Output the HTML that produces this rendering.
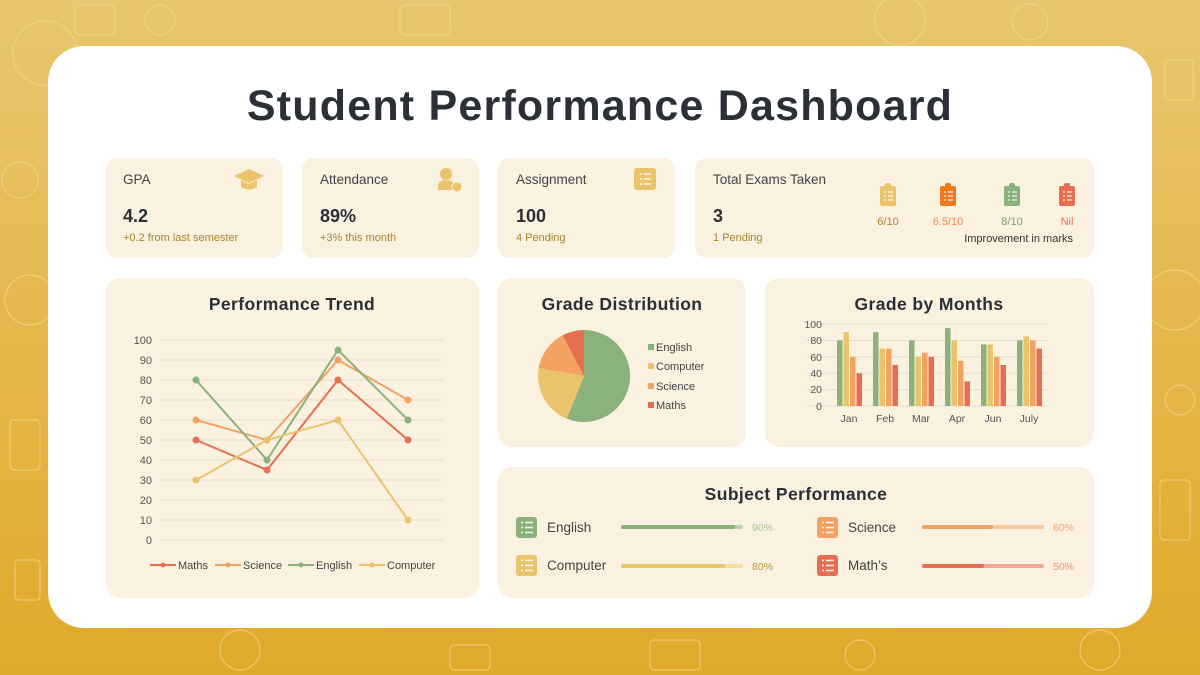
<!DOCTYPE html>
<html><head><meta charset="utf-8"><style>
html,body{margin:0;padding:0;width:1200px;height:675px;overflow:hidden}
svg{display:block}
text{font-family:"Liberation Sans",sans-serif}
</style></head><body>
<svg width="1200" height="675" viewBox="0 0 1200 675" xmlns="http://www.w3.org/2000/svg">
<defs>
<linearGradient id="bg" x1="0" y1="0" x2="0" y2="1">
<stop offset="0" stop-color="#e9c66f"/><stop offset="1" stop-color="#e1a928"/>
</linearGradient>
</defs>
<rect width="1200" height="675" fill="url(#bg)"/>
<g fill="none" stroke="#f3dc9c" stroke-width="1.2" opacity="0.6">
<circle cx="45" cy="53" r="32"/><rect x="75" y="5" width="40" height="30" rx="4"/><rect x="1110" y="150" width="40" height="55" rx="4"/>
<circle cx="1175" cy="300" r="30"/><rect x="10" y="420" width="30" height="50" rx="4"/><circle cx="30" cy="300" r="25"/>
<rect x="1160" y="480" width="30" height="60" rx="4"/><circle cx="240" cy="650" r="20"/><circle cx="900" cy="20" r="25"/>
<rect x="400" y="5" width="50" height="30" rx="4"/><rect x="650" y="640" width="50" height="30" rx="4"/><circle cx="1100" cy="650" r="20"/>
<circle cx="20" cy="180" r="18"/><rect x="1165" y="60" width="28" height="40" rx="4"/><circle cx="160" cy="20" r="15"/><circle cx="1030" cy="22" r="18"/>
<rect x="15" y="560" width="25" height="40" rx="4"/><circle cx="1180" cy="400" r="15"/><rect x="450" y="645" width="40" height="25" rx="4"/><circle cx="860" cy="655" r="15"/>
</g>
<rect x="48" y="46" width="1104" height="582" rx="36" fill="#fff"/>
<text x="600" y="120" text-anchor="middle" font-size="43" font-weight="bold" fill="#2b2f36" letter-spacing="1.2">Student Performance Dashboard</text>

<g fill="#fbf1e0">
<rect x="106" y="158" width="177" height="100" rx="12"/>
<rect x="302" y="158" width="177" height="100" rx="12"/>
<rect x="498" y="158" width="177" height="100" rx="12"/>
<rect x="695" y="158" width="399" height="100" rx="12"/>
<rect x="106" y="278" width="373" height="320" rx="14"/>
<rect x="498" y="278" width="248" height="169" rx="14"/>
<rect x="765" y="278" width="329" height="169" rx="14"/>
<rect x="498" y="467" width="596" height="131" rx="14"/>
</g>

<g font-size="13.5" fill="#444">
<text x="123" y="184">GPA</text><text x="320" y="184">Attendance</text><text x="516" y="184">Assignment</text><text x="713" y="184">Total Exams Taken</text>
</g>
<g font-size="18" font-weight="bold" fill="#2b2f36">
<text x="123" y="222">4.2</text><text x="320" y="222">89%</text><text x="516" y="222">100</text><text x="713" y="222">3</text>
</g>
<g font-size="11" fill="#a8852a">
<text x="123" y="241">+0.2 from last semester</text><text x="320" y="241">+3% this month</text><text x="516" y="241">4 Pending</text><text x="713" y="241">1 Pending</text>
</g>
<g fill="#e9c46a">
<polygon points="249,169 264,176 249,183 234,176"/><path d="M241,180 v7 q8,5 16,0 v-7 l-8,4z"/>
<circle cx="446" cy="174" r="6"/><path d="M438,190 v-4 q0,-6 8,-6 q8,0 8,6 v4z"/><circle cx="457" cy="187" r="5" stroke="#fbf1e0" stroke-width="1"/>
<rect x="634" y="168" width="22" height="22" rx="3"/>
</g>
<g stroke="#fbf1e0" stroke-width="1.6"><line x1="640" y1="174" x2="642" y2="174"/><line x1="644" y1="174" x2="651" y2="174"/><line x1="640" y1="179" x2="642" y2="179"/><line x1="644" y1="179" x2="651" y2="179"/><line x1="640" y1="184" x2="642" y2="184"/><line x1="644" y1="184" x2="651" y2="184"/></g>
<g>
<rect x="880" y="186" width="16" height="20" rx="2" fill="#e9c46a"/><rect x="885" y="183" width="6" height="5" rx="2" fill="#e9c46a"/>
<rect x="940" y="186" width="16" height="20" rx="2" fill="#ee7a1e"/><rect x="945" y="183" width="6" height="5" rx="2" fill="#ee7a1e"/>
<rect x="1004" y="186" width="16" height="20" rx="2" fill="#8ab27a"/><rect x="1009" y="183" width="6" height="5" rx="2" fill="#8ab27a"/>
<rect x="1059" y="186" width="16" height="20" rx="2" fill="#e76f51"/><rect x="1064" y="183" width="6" height="5" rx="2" fill="#e76f51"/>
</g>
<g stroke="#fff" stroke-width="1.2" opacity="0.85">
<path d="M884,192h2M888,192h5M884,196h2M888,196h5M884,200h2M888,200h5"/>
<path d="M944,192h2M948,192h5M944,196h2M948,196h5M944,200h2M948,200h5"/>
<path d="M1008,192h2M1012,192h5M1008,196h2M1012,196h5M1008,200h2M1012,200h5"/>
<path d="M1063,192h2M1067,192h5M1063,196h2M1067,196h5M1063,200h2M1067,200h5"/>
</g>
<g font-size="11" text-anchor="middle">
<text x="888" y="225" fill="#a8852a">6/10</text><text x="948" y="225" fill="#f08a4b">6.5/10</text><text x="1012" y="225" fill="#7fa56e">8/10</text><text x="1067" y="225" fill="#e76f51">Nil</text>
</g>
<text x="1073" y="242" font-size="11" text-anchor="end" fill="#333">Improvement in marks</text>

<text x="292" y="310" text-anchor="middle" font-size="17.5" font-weight="bold" fill="#2b2f36" letter-spacing="0.4">Performance Trend</text>
<g stroke="#e4ddd0" stroke-width="1">
<line x1="161" x2="444" y1="340" y2="340"/><line x1="161" x2="444" y1="360" y2="360"/><line x1="161" x2="444" y1="380" y2="380"/><line x1="161" x2="444" y1="400" y2="400"/><line x1="161" x2="444" y1="420" y2="420"/><line x1="161" x2="444" y1="440" y2="440"/><line x1="161" x2="444" y1="460" y2="460"/><line x1="161" x2="444" y1="480" y2="480"/><line x1="161" x2="444" y1="500" y2="500"/><line x1="161" x2="444" y1="520" y2="520"/><line x1="161" x2="444" y1="540" y2="540"/>
</g>
<g font-size="11" fill="#555" text-anchor="end">
<text x="152" y="344">100</text><text x="152" y="364">90</text><text x="152" y="384">80</text><text x="152" y="404">70</text><text x="152" y="424">60</text><text x="152" y="444">50</text><text x="152" y="464">40</text><text x="152" y="484">30</text><text x="152" y="504">20</text><text x="152" y="524">10</text><text x="152" y="544">0</text>
</g>
<g fill="none" stroke-width="2">
<polyline stroke="#e76f51" points="196,440 267,470 338,380 408,440"/>
<polyline stroke="#f4a261" points="196,420 267,440 338,360 408,400"/>
<polyline stroke="#8ab27a" points="196,380 267,460 338,350 408,420"/>
<polyline stroke="#e9c46a" points="196,480 267,440 338,420 408,520"/>
</g>
<g fill="#e76f51"><circle cx="196" cy="440" r="3.5"/><circle cx="267" cy="470" r="3.5"/><circle cx="338" cy="380" r="3.5"/><circle cx="408" cy="440" r="3.5"/></g>
<g fill="#f4a261"><circle cx="196" cy="420" r="3.5"/><circle cx="267" cy="440" r="3.5"/><circle cx="338" cy="360" r="3.5"/><circle cx="408" cy="400" r="3.5"/></g>
<g fill="#8ab27a"><circle cx="196" cy="380" r="3.5"/><circle cx="267" cy="460" r="3.5"/><circle cx="338" cy="350" r="3.5"/><circle cx="408" cy="420" r="3.5"/></g>
<g fill="#e9c46a"><circle cx="196" cy="480" r="3.5"/><circle cx="267" cy="440" r="3.5"/><circle cx="338" cy="420" r="3.5"/><circle cx="408" cy="520" r="3.5"/></g>
<g stroke-width="2">
<line x1="150" x2="176" y1="565" y2="565" stroke="#e76f51"/><circle cx="163" cy="565" r="2.5" fill="#e76f51"/>
<line x1="215" x2="241" y1="565" y2="565" stroke="#f4a261"/><circle cx="228" cy="565" r="2.5" fill="#f4a261"/>
<line x1="288" x2="314" y1="565" y2="565" stroke="#8ab27a"/><circle cx="301" cy="565" r="2.5" fill="#8ab27a"/>
<line x1="359" x2="385" y1="565" y2="565" stroke="#e9c46a"/><circle cx="372" cy="565" r="2.5" fill="#e9c46a"/>
</g>
<g font-size="11" fill="#444"><text x="178" y="569">Maths</text><text x="243" y="569">Science</text><text x="316" y="569">English</text><text x="387" y="569">Computer</text></g>

<text x="622" y="310" text-anchor="middle" font-size="17.5" font-weight="bold" fill="#2b2f36" letter-spacing="0.4">Grade Distribution</text>
<g transform="translate(584,376)">
<path d="M0,0 L0,-46 A46,46 0 1 1 -17.3,42.6 Z" fill="#8ab27a"/>
<path d="M0,0 L-17.3,42.6 A46,46 0 0 1 -45.3,-8.0 Z" fill="#e9c46a"/>
<path d="M0,0 L-45.3,-8.0 A46,46 0 0 1 -21.4,-40.7 Z" fill="#f4a261"/>
<path d="M0,0 L-21.4,-40.7 A46,46 0 0 1 0,-46 Z" fill="#e76f51"/>
</g>
<rect x="648" y="344" width="6" height="6" fill="#8ab27a"/><rect x="648" y="363" width="6" height="6" fill="#e9c46a"/><rect x="648" y="383" width="6" height="6" fill="#f4a261"/><rect x="648" y="402" width="6" height="6" fill="#e76f51"/>
<g font-size="11" fill="#444"><text x="656" y="351">English</text><text x="656" y="370">Computer</text><text x="656" y="390">Science</text><text x="656" y="409">Maths</text></g>

<text x="929" y="310" text-anchor="middle" font-size="17.5" font-weight="bold" fill="#2b2f36" letter-spacing="0.4">Grade by Months</text>
<g stroke="#e4ddd0"><line x1="806" x2="1047" y1="324" y2="324"/><line x1="806" x2="1047" y1="340.4" y2="340.4"/><line x1="806" x2="1047" y1="356.8" y2="356.8"/><line x1="806" x2="1047" y1="373.2" y2="373.2"/><line x1="806" x2="1047" y1="389.6" y2="389.6"/><line x1="806" x2="1047" y1="406" y2="406"/></g>
<g font-size="10.5" fill="#555" text-anchor="end"><text x="822" y="328">100</text><text x="822" y="344">80</text><text x="822" y="361">60</text><text x="822" y="377">40</text><text x="822" y="393">20</text><text x="822" y="410">0</text></g>
<g>
<rect x="837" y="340.4" width="5.5" height="65.6" fill="#8ab27a"/><rect x="843.5" y="332.2" width="5.5" height="73.8" fill="#e9c46a"/><rect x="850" y="356.8" width="5.5" height="49.2" fill="#f4a261"/><rect x="856.5" y="373.2" width="5.5" height="32.8" fill="#e76f51"/>
<rect x="873" y="332.2" width="5.5" height="73.8" fill="#8ab27a"/><rect x="879.5" y="348.6" width="5.5" height="57.4" fill="#e9c46a"/><rect x="886" y="348.6" width="5.5" height="57.4" fill="#f4a261"/><rect x="892.5" y="365" width="5.5" height="41" fill="#e76f51"/>
<rect x="909" y="340.4" width="5.5" height="65.6" fill="#8ab27a"/><rect x="915.5" y="356.8" width="5.5" height="49.2" fill="#e9c46a"/><rect x="922" y="352.7" width="5.5" height="53.3" fill="#f4a261"/><rect x="928.5" y="356.8" width="5.5" height="49.2" fill="#e76f51"/>
<rect x="945" y="328.1" width="5.5" height="77.9" fill="#8ab27a"/><rect x="951.5" y="340.4" width="5.5" height="65.6" fill="#e9c46a"/><rect x="958" y="360.9" width="5.5" height="45.1" fill="#f4a261"/><rect x="964.5" y="381.4" width="5.5" height="24.6" fill="#e76f51"/>
<rect x="981" y="344.5" width="5.5" height="61.5" fill="#8ab27a"/><rect x="987.5" y="344.5" width="5.5" height="61.5" fill="#e9c46a"/><rect x="994" y="356.8" width="5.5" height="49.2" fill="#f4a261"/><rect x="1000.5" y="365" width="5.5" height="41" fill="#e76f51"/>
<rect x="1017" y="340.4" width="5.5" height="65.6" fill="#8ab27a"/><rect x="1023.5" y="336.3" width="5.5" height="69.7" fill="#e9c46a"/><rect x="1030" y="340.4" width="5.5" height="65.6" fill="#f4a261"/><rect x="1036.5" y="348.6" width="5.5" height="57.4" fill="#e76f51"/>
</g>
<g font-size="10.5" fill="#555" text-anchor="middle"><text x="849" y="422">Jan</text><text x="885" y="422">Feb</text><text x="921" y="422">Mar</text><text x="957" y="422">Apr</text><text x="993" y="422">Jun</text><text x="1029" y="422">July</text></g>

<text x="796" y="500" text-anchor="middle" font-size="17.5" font-weight="bold" fill="#2b2f36" letter-spacing="0.4">Subject Performance</text>
<rect x="516" y="517" width="21" height="21" rx="3" fill="#8ab27a"/><rect x="516" y="555" width="21" height="21" rx="3" fill="#e9c46a"/><rect x="817" y="517" width="21" height="21" rx="3" fill="#f4a261"/><rect x="817" y="555" width="21" height="21" rx="3" fill="#e76f51"/>
<g stroke="#fff" stroke-width="1.5" opacity="0.9">
<path d="M521,522.5h2M525,522.5h8M521,527.5h2M525,527.5h8M521,532.5h2M525,532.5h8"/>
<path d="M521,560.5h2M525,560.5h8M521,565.5h2M525,565.5h8M521,570.5h2M525,570.5h8"/>
<path d="M822,522.5h2M826,522.5h8M822,527.5h2M826,527.5h8M822,532.5h2M826,532.5h8"/>
<path d="M822,560.5h2M826,560.5h8M822,565.5h2M826,565.5h8M822,570.5h2M826,570.5h8"/>
</g>
<g font-size="13.5" fill="#444"><text x="547" y="532">English</text><text x="547" y="570">Computer</text><text x="848" y="532">Science</text><text x="848" y="570">Math’s</text></g>
<g stroke-linecap="round" stroke-width="4">
<line x1="623" x2="741" y1="527" y2="527" stroke="#bcd3b0"/><line x1="623" x2="733" y1="527" y2="527" stroke="#8ab27a"/>
<line x1="623" x2="741" y1="566" y2="566" stroke="#f3dea2"/><line x1="623" x2="723" y1="566" y2="566" stroke="#e9c46a"/>
<line x1="924" x2="1042" y1="527" y2="527" stroke="#f9c8a0"/><line x1="924" x2="991" y1="527" y2="527" stroke="#f4a261"/>
<line x1="924" x2="1042" y1="566" y2="566" stroke="#f1a896"/><line x1="924" x2="982" y1="566" y2="566" stroke="#e76f51"/>
</g>
<g font-size="10.5"><text x="752" y="531" fill="#a8c79a">90%</text><text x="752" y="570" fill="#b8953a">80%</text><text x="1053" y="531" fill="#f4a261">60%</text><text x="1053" y="570" fill="#ef8f78">50%</text></g>
</svg>
</body></html>
